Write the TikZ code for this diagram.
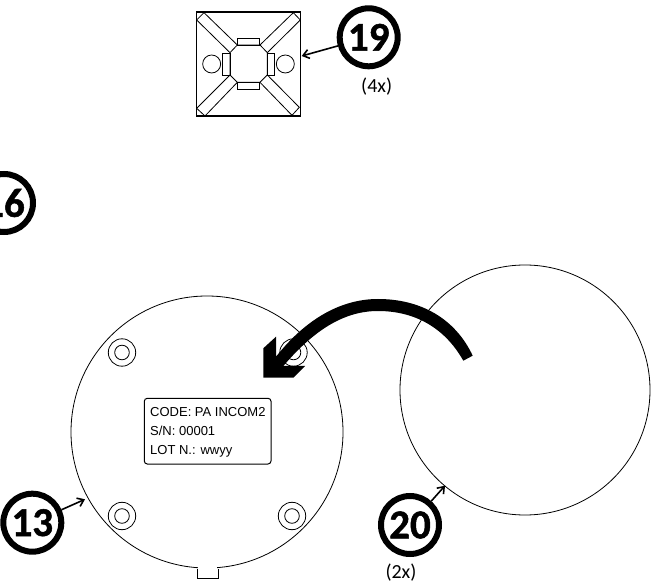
\documentclass[tikz,border=0pt]{standalone}
\usepackage{fontspec}
\setmainfont{Carlito}
\newfontfamily\labelfont{Liberation Sans}
\newfontfamily\numfont[BoldFeatures={FakeBold=1.2}]{Carlito}
\usetikzlibrary{arrows.meta}
\tikzset{
  outline/.style={draw=black,line width=0.8pt},
  bubble/.style={circle,draw=black,line width=6pt,minimum size=58pt,inner sep=0pt,fill=white,font=\numfont\fontsize{41}{41}\selectfont\bfseries},
  qty/.style={font=\fontsize{20}{22}\selectfont,inner sep=0pt},
  pointer/.style={draw=black,line width=1.6pt,-{Straight Barb[length=6pt,width=9pt,line width=1.6pt]}},
  plate/.style={outline,rounded corners=3pt,line width=1pt},
  plateline/.style={font=\labelfont\fontsize{13}{13}\selectfont,anchor=base west,inner sep=0pt},
}
\begin{document}
\begin{tikzpicture}[x=1pt,y=-1pt]
\useasboundingbox (0,0) rectangle (651,585);
% top bracket
\begin{scope}[shift={(180,0)},x=0.3333pt,y=-0.3333pt]
  \draw[outline,line width=1.3pt] (50,36) rectangle (361,348);
  \draw[outline] (172,135)--(240,135)--(262,158)--(262,225)--(240,247)--(172,247)--(150,225)--(150,158)--cycle;
  \draw[outline] (172,135) rectangle (238,115);
  \draw[outline] (172,247) rectangle (238,268);
  \draw[outline] (150,160) rectangle (128,225);
  \draw[outline] (262,160) rectangle (283,225);
  \draw[outline] (95,192) circle[radius=27];
  \draw[outline] (316,192) circle[radius=27];
  \draw[outline] (172,135)--(72,38)--(50,60)--(150,158);
  \draw[outline] (240,135)--(340,38)--(361,60)--(262,158);
  \draw[outline] (150,225)--(50,325)--(75,348)--(172,247);
  \draw[outline] (262,225)--(358,322)--(336,346)--(240,247);
\end{scope}
% main discs
\draw[outline] (207,432) circle[radius=136];
\fill[white] (198,566) rectangle (217,572);
\draw[outline] (197,569)--(197,578)--(218,578)--(218,569);
\draw[outline] (525,390) circle[radius=125];
% screws
\foreach \p in {(122,352.5),(293.5,352.5),(122,516),(292,516)}{
  \draw[outline] \p circle[radius=13.7];
  \draw[outline] \p circle[radius=7.3];
}
% label plate
\draw[plate] (144.3,398.3) rectangle (271,464);
\node[plateline] (l1) at (150,416.7) {CODE: PA INCOM2};
\node[plateline] (l2) at (150,435.7) {S/N: 00001};
\node[plateline] (l3) at (150,454.3) {LOT N.: wwyy};
% big curved arrow
\fill[black] (472.7,355.7)
  .. controls (455,318) and (420,299) .. (378,299)
  .. controls (340,299) and (305,320) .. (276,356.7)
  -- (276,336.7) -- (263.3,348.3) -- (263.3,377.7) -- (293.3,377.7) -- (305,366) -- (283.3,366)
  .. controls (310,335) and (340,311) .. (378,311)
  .. controls (415,311) and (445,328) .. (463.3,360.7)
  -- cycle;
% bubbles
\node[bubble] (b19) at (368.7,37.3) {19};
\node[bubble] (b16) at (4,203) {16};
\node[bubble] (b13) at (32.3,522.7) {13};
\node[bubble] (b20) at (410,525) {20};
\node[qty] (q4) at (376.7,87) {(4x)};
\node[qty] (q2) at (401,573) {(2x)};
\coordinate (t19) at (301.7,56);
\coordinate (t13) at (85,499.3);
\coordinate (t20) at (445,485.7);
\draw[pointer] (b19) -- (t19);
\draw[pointer] (b13) -- (t13);
\draw[pointer] (b20) -- (t20);
\end{tikzpicture}
\end{document}
